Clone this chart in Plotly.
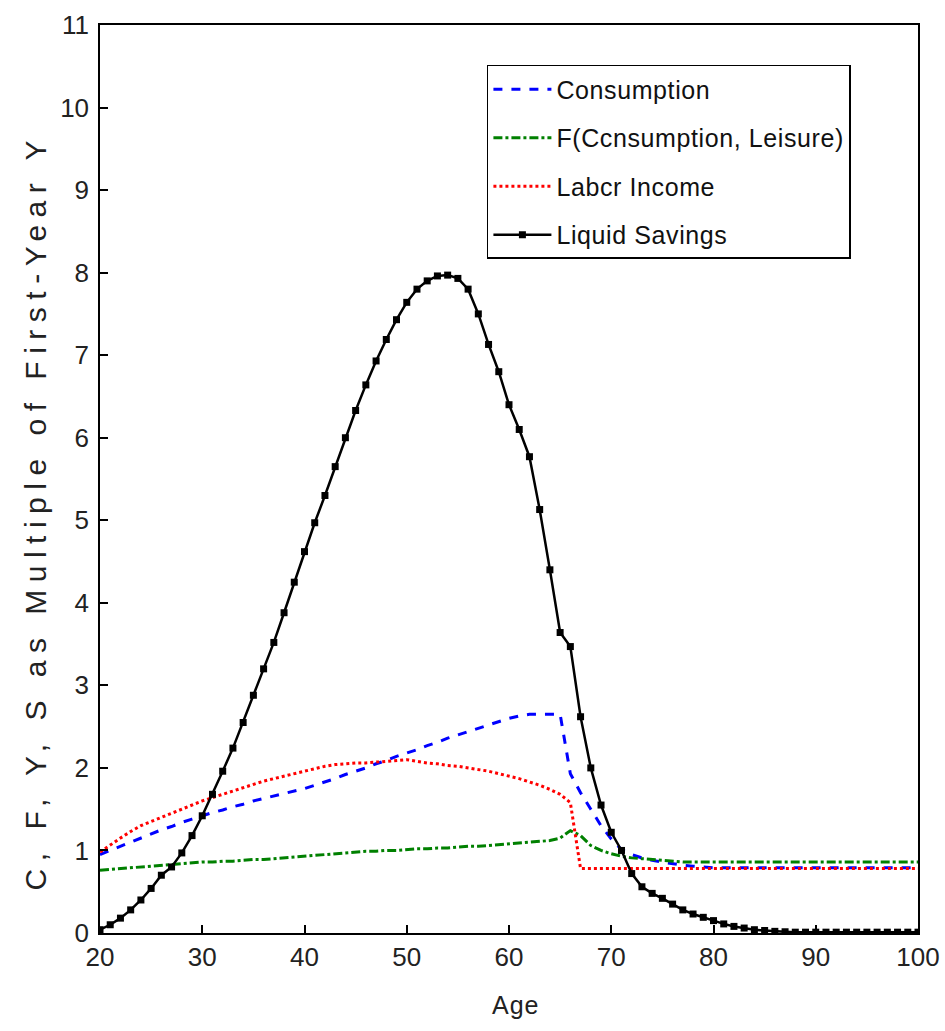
import plotly.graph_objects as go

ages = list(range(20, 101))

savings = [0.04, 0.1, 0.18, 0.28, 0.4, 0.54, 0.7, 0.8, 0.97, 1.18, 1.42, 1.68, 1.96, 2.24, 2.55, 2.88,
           3.2, 3.52, 3.88, 4.25, 4.62, 4.97, 5.3, 5.65, 6.0, 6.33, 6.64, 6.93, 7.19, 7.43, 7.64,
           7.8, 7.9, 7.96, 7.97, 7.93, 7.8, 7.5, 7.13, 6.8, 6.4, 6.1, 5.77, 5.13, 4.4, 3.64,
           3.47, 2.62, 2.0, 1.55, 1.22, 1.0, 0.72, 0.56, 0.48, 0.42, 0.35, 0.28, 0.23, 0.19, 0.15,
           0.11, 0.08, 0.06, 0.04, 0.03, 0.02, 0.015, 0.01, 0.01, 0.01, 0.01, 0.01, 0.01, 0.01,
           0.01, 0.01, 0.01, 0.01, 0.01, 0.01]

consumption = [0.95, 1.0, 1.05, 1.1, 1.15, 1.2, 1.25, 1.29, 1.34, 1.38, 1.42, 1.46, 1.49, 1.53, 1.56, 1.6,
               1.63, 1.66, 1.69, 1.72, 1.75, 1.79, 1.83, 1.87, 1.92, 1.96, 2.0, 2.05, 2.09, 2.14, 2.18,
               2.22, 2.27, 2.31, 2.36, 2.4, 2.44, 2.48, 2.52, 2.56, 2.6, 2.63, 2.65, 2.65, 2.65, 2.65,
               1.93, 1.7, 1.5, 1.3, 1.14, 1.01, 0.95, 0.91, 0.88, 0.86, 0.84, 0.82, 0.81, 0.8, 0.79,
               0.79, 0.79, 0.79, 0.79, 0.79, 0.79, 0.79, 0.79, 0.79, 0.79, 0.79, 0.79, 0.79, 0.79,
               0.79, 0.79, 0.79, 0.79, 0.79, 0.79]

f_cons_leisure = [0.76, 0.77, 0.78, 0.79, 0.8, 0.81, 0.82, 0.83, 0.84, 0.85, 0.86, 0.86, 0.87, 0.87, 0.88, 0.89,
                  0.89, 0.9, 0.91, 0.92, 0.93, 0.94, 0.95, 0.96, 0.97, 0.98, 0.99, 0.99, 1.0, 1.0, 1.01,
                  1.02, 1.02, 1.03, 1.03, 1.04, 1.05, 1.05, 1.06, 1.07, 1.08, 1.09, 1.1, 1.11, 1.12, 1.15,
                  1.24, 1.18, 1.06, 1.0, 0.96, 0.93, 0.91, 0.9, 0.89, 0.88, 0.87, 0.86, 0.86, 0.86, 0.86,
                  0.86, 0.86, 0.86, 0.86, 0.86, 0.86, 0.86, 0.86, 0.86, 0.86, 0.86, 0.86, 0.86, 0.86,
                  0.86, 0.86, 0.86, 0.86, 0.86, 0.86]

labor_income = [0.98, 1.07, 1.15, 1.23, 1.3, 1.35, 1.4, 1.45, 1.5, 1.55, 1.6, 1.64, 1.68, 1.72, 1.76, 1.8,
                1.84, 1.87, 1.9, 1.93, 1.96, 1.99, 2.02, 2.04, 2.05, 2.06, 2.06, 2.07, 2.08, 2.09, 2.1,
                2.08, 2.06, 2.05, 2.03, 2.02, 2.0, 1.98, 1.96, 1.93, 1.9, 1.87, 1.83, 1.79, 1.74, 1.68,
                1.58, 0.78, 0.78, 0.78, 0.78, 0.78, 0.78, 0.78, 0.78, 0.78, 0.78, 0.78, 0.78, 0.78, 0.78,
                0.78, 0.78, 0.78, 0.78, 0.78, 0.78, 0.78, 0.78, 0.78, 0.78, 0.78, 0.78, 0.78, 0.78,
                0.78, 0.78, 0.78, 0.78, 0.78, 0.78]

x_ticks = list(range(20, 101, 10))
y_ticks = list(range(0, 12))

FONT = "Liberation Sans, Arial, sans-serif"
TXT = "#222222"


def spaced(s, px):
    return f'<span style="letter-spacing:{px}px">{s}</span>'


fig = go.Figure()
fig.add_trace(go.Scatter(x=ages, y=consumption, mode="lines", name=spaced("Consumption", 0.6),
                         legendgroup="a", line=dict(color="#0000ff", width=3, dash="dash")))
fig.add_trace(go.Scatter(x=ages, y=f_cons_leisure, mode="lines", name=spaced("F(Ccnsumption, Leisure)", 0.6),
                         legendgroup="b", line=dict(color="#008000", width=3, dash="dashdot")))
fig.add_trace(go.Scatter(x=ages, y=labor_income, mode="lines", name=spaced("Labcr Income", 0.6),
                         legendgroup="c", line=dict(color="#ff0000", width=3, dash="dot")))
fig.add_trace(go.Scatter(x=ages, y=savings, mode="lines+markers", name=spaced("Liquid Savings", 0.6),
                         legendgroup="d", line=dict(color="#000000", width=2.5),
                         marker=dict(symbol="square", size=7, color="#000000")))

axis_common = dict(showgrid=False, zeroline=False, showline=True, linecolor="black", linewidth=1.5,
                   mirror=True, ticks="inside", ticklen=8, tickwidth=1.5, tickcolor="black",
                   automargin=False,
                   tickfont=dict(family=FONT, size=26, color=TXT))

fig.update_xaxes(range=[20, 100], tickvals=x_ticks, **axis_common)
fig.update_yaxes(range=[0, 11], tickvals=y_ticks, ticklabelstandoff=4, **axis_common)

fig.add_annotation(xref="paper", yref="paper", x=-0.079, y=(933 - 512) / 908,
                   xanchor="center", yanchor="middle", textangle=-90, showarrow=False,
                   text=spaced("C, F, Y, S as Multiple of First-Year Y", 7.5),
                   font=dict(family=FONT, size=30, color=TXT))
fig.add_annotation(xref="paper", yref="paper", x=(515 - 100) / 818, y=-(1005 - 933) / 908,
                   xanchor="center", yanchor="middle", showarrow=False,
                   text=spaced("Age", 1),
                   font=dict(family=FONT, size=25, color=TXT))

fig.update_layout(
    width=945, height=1031,
    margin=dict(l=100, r=27, t=25, b=98),
    paper_bgcolor="white", plot_bgcolor="white",
    showlegend=True,
    legend=dict(x=0.473, y=0.956, xanchor="left", yanchor="top",
                bordercolor="black", borderwidth=1.5, bgcolor="white",
                font=dict(family=FONT, size=25, color="#111"),
                traceorder="grouped", tracegroupgap=13, itemwidth=58),
)

fig.write_html("out.html", config={"displayModeBar": False},
               post_script="document.body.style.margin='0';document.body.style.overflow='hidden';")
